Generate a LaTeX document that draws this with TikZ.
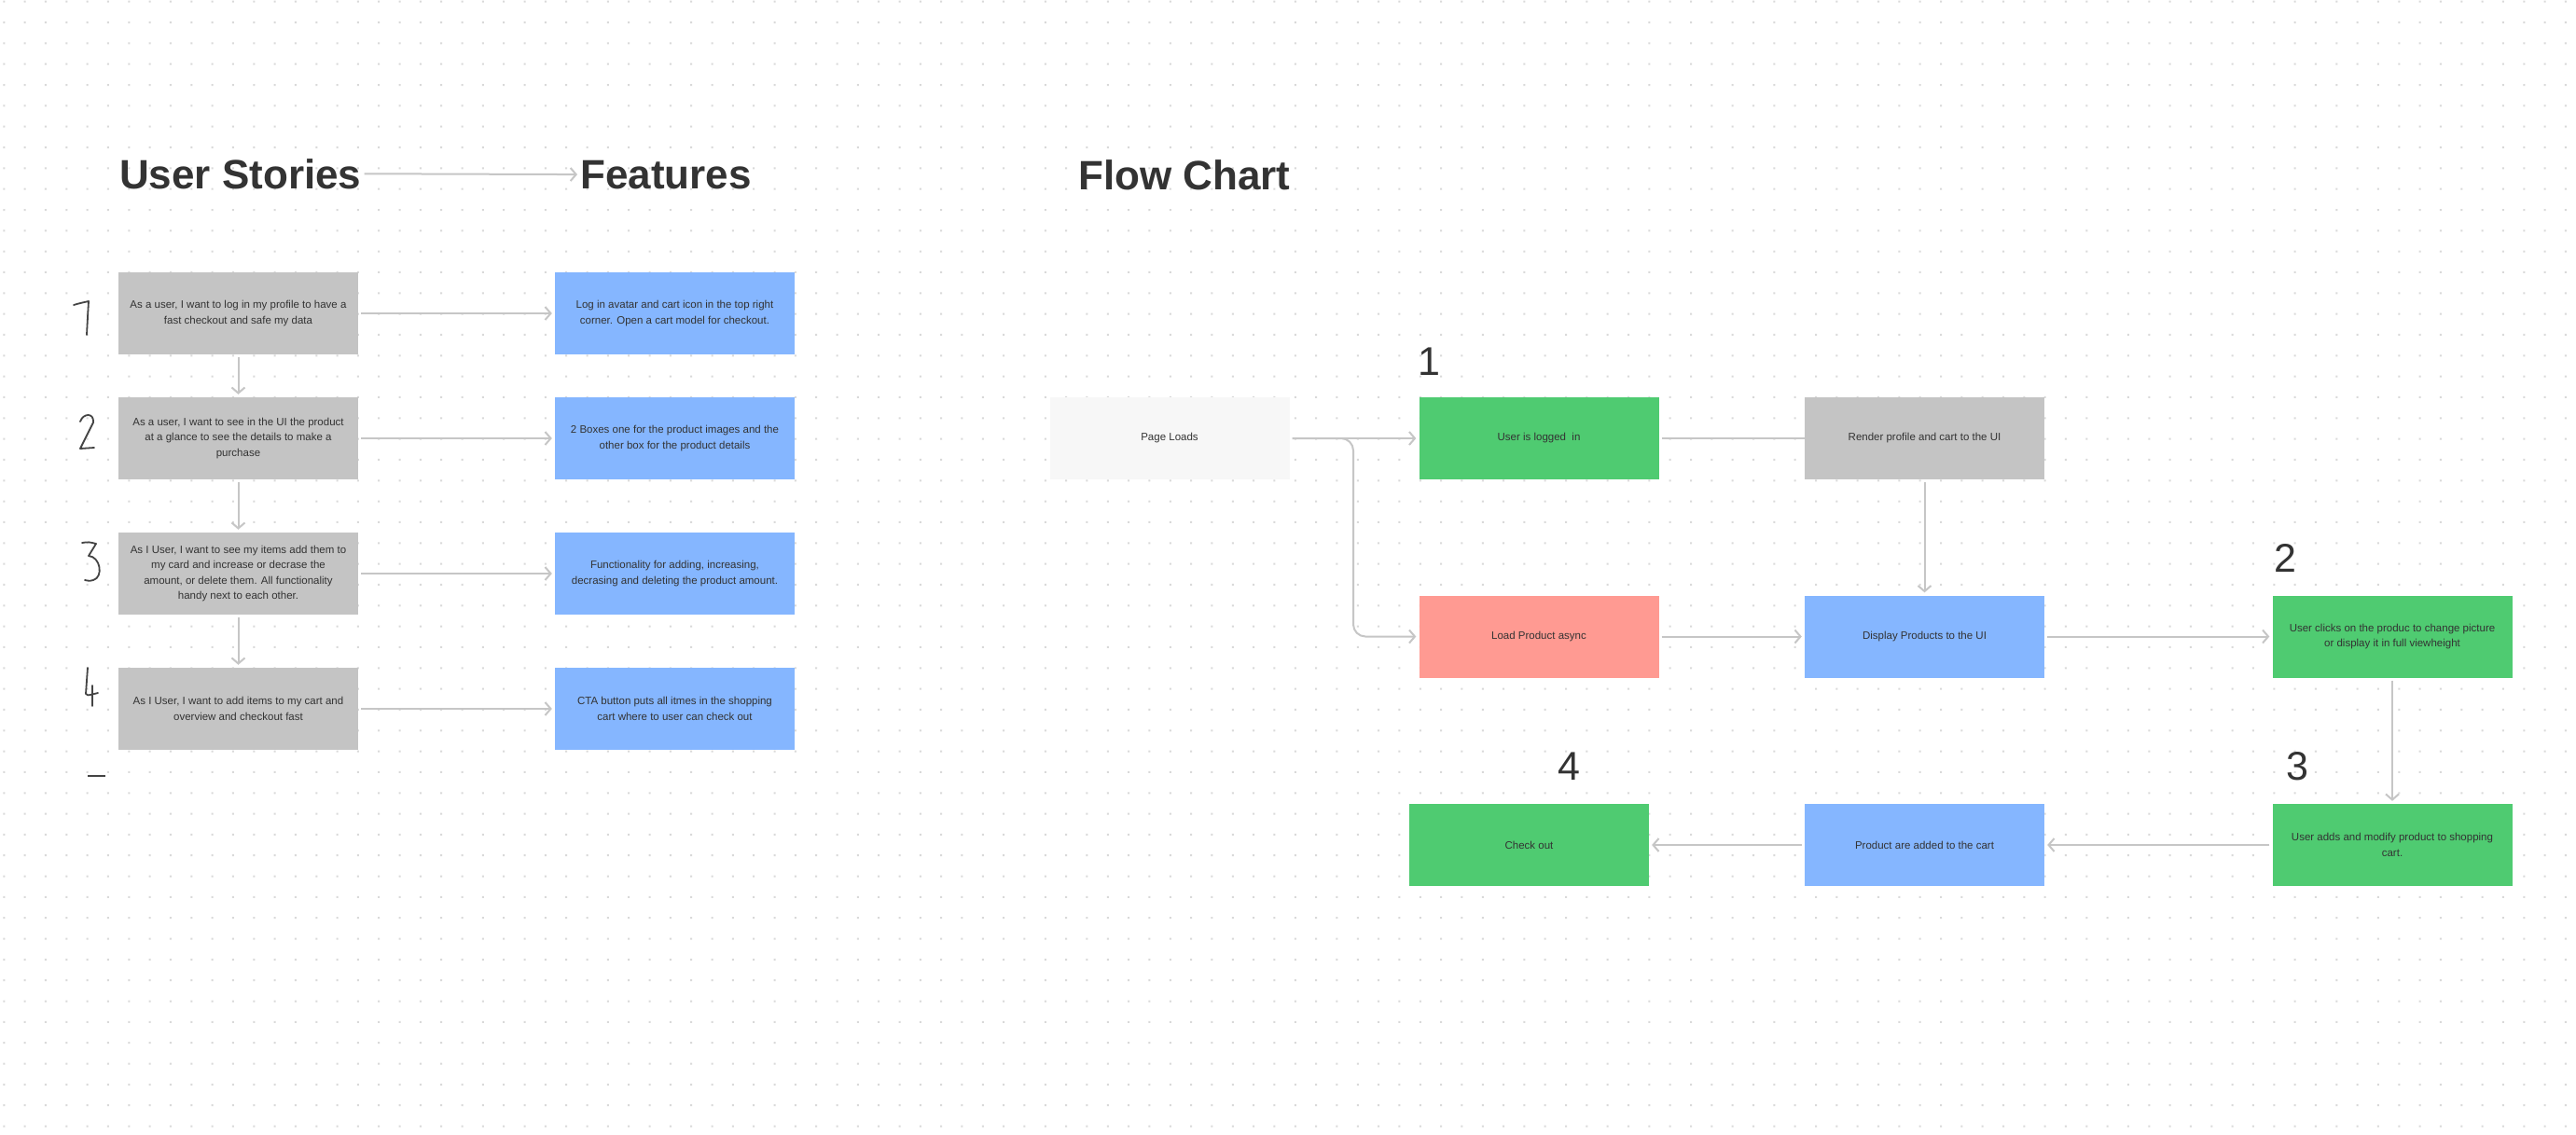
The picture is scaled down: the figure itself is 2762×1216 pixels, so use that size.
\documentclass[tikz,border=0pt]{standalone}
\usepackage{fontspec}
\setmainfont{Liberation Sans}
\usetikzlibrary{arrows.meta}
\definecolor{txt}{HTML}{333333}
\definecolor{hand}{HTML}{444444}
\definecolor{arrowc}{HTML}{C6C6C6}
\definecolor{dotc}{HTML}{D9D9D9}
\definecolor{storyc}{HTML}{C4C4C4}
\definecolor{featc}{HTML}{85B6FF}
\definecolor{greenc}{HTML}{4FCB71}
\definecolor{salmonc}{HTML}{FF9A92}
\definecolor{pagec}{HTML}{F7F7F7}
\tikzset{
  cardbox/.style={rectangle, minimum width=257pt, minimum height=88pt, inner sep=0pt,
    align=center, text=txt, font=\fontsize{11.5}{16.6}\selectfont},
  storybox/.style={cardbox, fill=storyc},
  featbox/.style={cardbox, fill=featc},
  greenbox/.style={cardbox, fill=greenc},
  bluebox/.style={cardbox, fill=featc},
  graybox/.style={cardbox, fill=storyc},
  salmonbox/.style={cardbox, fill=salmonc},
  pagebox/.style={cardbox, fill=pagec},
  conn/.style={draw=arrowc, line width=2pt, -{Straight Barb[length=6pt,width=14pt]},
    shorten <=3pt, shorten >=3pt},
  plainconn/.style={draw=arrowc, line width=2pt, shorten <=3pt},
  titletext/.style={font=\fontsize{44}{50}\selectfont\bfseries, text=txt, inner sep=0pt},
  digit/.style={font=\fontsize{43}{48}\selectfont, text=txt, inner sep=0pt},
  handstroke/.style={draw=hand, line width=1.8pt, line cap=round, line join=round}
}
\begin{document}
\begin{tikzpicture}[x=1pt,y=-1pt]
\useasboundingbox (0,0) rectangle (2762,1216);
\fill[white] (0,0) rectangle (2762,1216);
% dot grid
\foreach \i in {0,...,123}{
  \pgfmathsetmacro{\dx}{4.3+22.33*\i}
  \fill[dotc] \foreach \j in {0,...,54}{ ({\dx-1},{0.7+22.33*\j}) rectangle ++(2,2) };
}

% titles
\node[titletext, anchor=base west] (us) at (128,202) {User Stories};
\node[titletext, anchor=base west] (feat) at (622,202) {Features};
\node[titletext, anchor=base west] (fc) at (1156,203) {Flow Chart};
\draw[conn] (us.east) -- (feat.west);

% user stories
\node[storybox] (s1) at (255.5,336) {As a user, I want to log in my profile to have a\\fast checkout and safe my data};
\node[storybox] (s2) at (255.5,470) {As a user, I want to see in the UI the product\\at a glance to see the details to make a\\purchase};
\node[storybox] (s3) at (255.5,615) {As I User, I want to see my items add them to\\my card and increase or decrase the\\amount, or delete them. All functionality\\handy next to each other.};
\node[storybox] (s4) at (255.5,760) {As I User, I want to add items to my cart and\\overview and checkout fast};

% features
\node[featbox] (f1) at (723.5,336) {Log in avatar and cart icon in the top right\\corner. Open a cart model for checkout.};
\node[featbox] (f2) at (723.5,470) {2 Boxes one for the product images and the\\other box for the product details};
\node[featbox] (f3) at (723.5,615) {Functionality for adding, increasing,\\decrasing and deleting the product amount.};
\node[featbox] (f4) at (723.5,760) {CTA button puts all itmes in the shopping\\cart where to user can check out};

\draw[conn] (s1.east) -- (f1.west);
\draw[conn] (s2.east) -- (f2.west);
\draw[conn] (s3.east) -- (f3.west);
\draw[conn] (s4.east) -- (f4.west);
\draw[conn] (s1.south) -- (s2.north);
\draw[conn] (s2.south) -- (s3.north);
\draw[conn] (s3.south) -- (s4.north);

% hand-drawn numbers
\draw[handstroke] (79,327) .. controls (86,325) .. (95,323) .. controls (94,340) .. (93,359);
\draw[handstroke] (86,452) .. controls (89,443) and (101,442) .. (100,453) -- (86,481) -- (101,480);
\draw[handstroke] (88,582) .. controls (95,581) .. (103,583) -- (95,596) .. controls (108,597) and (111,619) .. (100,622) .. controls (96,623) .. (91,622);
\draw[handstroke] (94,716) -- (92,744) .. controls (93,746) .. (105,743);
\draw[handstroke] (99,735) -- (99,757);
\draw[handstroke, line width=2.5pt, line cap=butt] (94,832) -- (113,832);

% flow chart
\node[pagebox] (pl) at (1254,470) {Page Loads};
\node[greenbox] (uli) at (1650,470) {User is logged\ \ in};
\node[graybox] (rend) at (2063.5,470) {Render profile and cart to the UI};
\node[salmonbox] (lpa) at (1650,682.5) {Load Product async};
\node[bluebox] (disp) at (2063.5,682.5) {Display Products to the UI};
\node[greenbox] (click) at (2565,682.5) {User clicks on the produc to change picture\\or display it in full viewheight};
\node[greenbox] (adds) at (2565,906) {User adds and modify product to shopping\\cart.};
\node[bluebox] (added) at (2063.5,906) {Product are added to the cart};
\node[greenbox] (chk) at (1639.5,906) {Check out};

\coordinate (b1) at (1451,470);
\coordinate (b2) at (1451,682.5);
\draw[conn] (pl.east) -- (uli.west);
\draw[conn, rounded corners=13pt] (pl.east) -- (b1) -- (b2) -- (lpa.west);
\draw[plainconn] (uli.east) -- (rend.west);
\draw[conn] (rend.south) -- (disp.north);
\draw[conn] (lpa.east) -- (disp.west);
\draw[conn] (disp.east) -- (click.west);
\draw[conn] (click.south) -- (adds.north);
\draw[conn] (adds.west) -- (added.east);
\draw[conn] (added.west) -- (chk.east);

% step numbers
\node[digit] (n1) at (1532,388) {1};
\node[digit] (n2) at (2450,598) {2};
\node[digit] (n3) at (2463,822) {3};
\node[digit] (n4) at (1682,822) {4};
\end{tikzpicture}
\end{document}
